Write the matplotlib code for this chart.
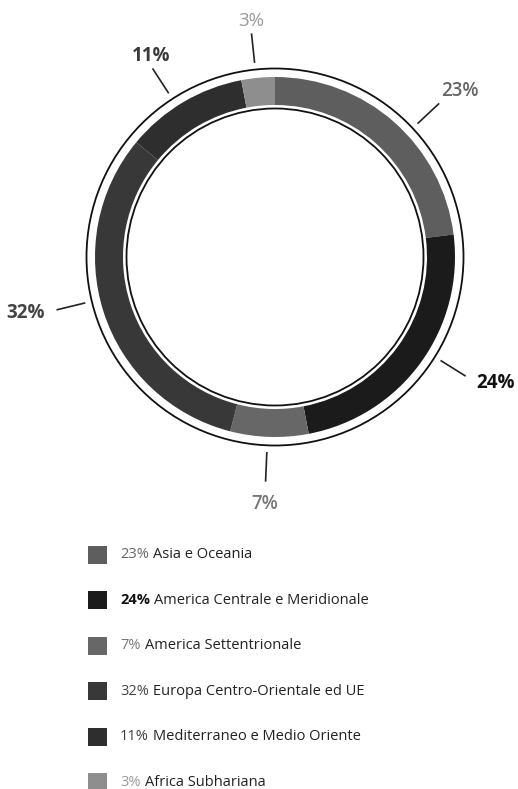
import matplotlib.pyplot as plt
import numpy as np
from matplotlib.patches import Circle, Rectangle

# Data
regions = ['Asia e Oceania', 'America Centrale e Meridionale', 'America Settentrionale',
           'Europa Centro-Orientale ed UE', 'Mediterraneo e Medio Oriente', 'Africa Subhariana']
shares = [23, 24, 7, 32, 11, 3]
colors = ['#5e5e5e', '#1b1b1b', '#676767', '#383838', '#2e2e2e', '#8e8e8e']
label_colors = ['#666666', '#111111', '#777777', '#444444', '#3a3a3a', '#9a9a9a']
label_weights = ['semibold', 'bold', 'semibold', 'bold', 'bold', 'normal']
legend_weights = ['normal', 'bold', 'normal', 'normal', 'normal', 'normal']
# small nudges of the label angle (degrees) relative to the wedge middle
label_nudge = [-5.5, 4, -0.6, -4.4, 2.4, 0.6]

plt.rcParams['font.family'] = ['Open Sans', 'DejaVu Sans']

W, H = 518, 789
fig = plt.figure(figsize=(W / 100, H / 100), dpi=100)
ax = fig.add_axes([0, 0, 1, 1])

cx, cy = 275, H - 257
wedges, _ = ax.pie(shares, colors=colors, startangle=90, counterclock=False,
                   center=(cx, cy), radius=180, frame=True,
                   wedgeprops=dict(width=28, linewidth=0))
ax.set_xlim(0, W)
ax.set_ylim(0, H)
ax.set_aspect('equal')
ax.axis('off')

# outline rings
ax.add_patch(Circle((cx, cy), 188.5, fill=False, ec='#111111', lw=1.3))
ax.add_patch(Circle((cx, cy), 148.5, fill=False, ec='#111111', lw=1.3))

# labels with leader lines
for w, s, c, fw, nd in zip(wedges, shares, label_colors, label_weights, label_nudge):
    ang = np.deg2rad((w.theta1 + w.theta2) / 2 + nd)
    ca, sa = np.cos(ang), np.sin(ang)
    ax.plot([cx + 196 * ca, cx + 224 * ca], [cy + 196 * sa, cy + 224 * sa],
            color='#222222', lw=1.2)
    ha = 'left' if ca > 0.6 else ('right' if ca < -0.6 else 'center')
    va = 'bottom' if sa > 0.6 else ('top' if sa < -0.6 else 'center')
    r = 228 if va == 'bottom' else 237
    ax.text(cx + r * ca, cy + r * sa, f'{s}%', ha=ha, va=va, fontsize=13.5,
            color=c, fontweight=fw)

# legend
y0 = H - 555
for i, (name, s, col, lc, fw) in enumerate(zip(regions, shares, colors, label_colors, legend_weights)):
    y = y0 - i * 45.4
    ax.add_patch(Rectangle((88, y - 9), 19, 18, color=col, lw=0))
    t = ax.text(120, y, f'{s}%', ha='left', va='center', fontsize=10.5,
                color=lc, fontweight=fw)
    ax.annotate(name, xy=(1, 0.5), xycoords=t, xytext=(3, 0), textcoords='offset points',
                ha='left', va='center', fontsize=10.5, color='#222222')

fig.savefig('out.png', dpi=100, facecolor='white')
